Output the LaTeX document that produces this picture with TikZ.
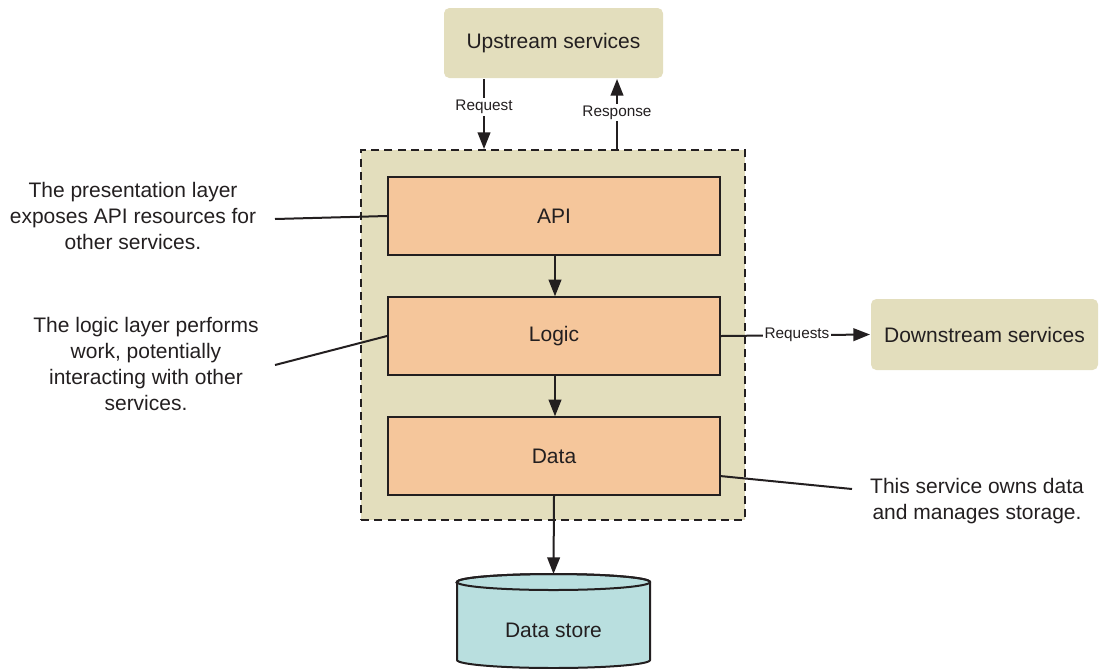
\documentclass[tikz,border=0pt]{standalone}
\usepackage{fontspec}
\setmainfont{Liberation Sans}
\usetikzlibrary{arrows.meta}
\definecolor{beige}{RGB}{227,222,189}
\definecolor{peach}{RGB}{245,198,155}
\definecolor{teal}{RGB}{185,223,223}
\definecolor{ink}{RGB}{35,31,32}
\begin{document}
\begin{tikzpicture}[x=0.75pt,y=-0.75pt,
  line width=1.5pt, draw=ink,
  big/.style={font=\fontsize{15.75}{19.5}\selectfont, text=ink},
  small/.style={font=\fontsize{11.5}{13}\selectfont, text=ink, fill=white, inner sep=1.5pt},
  svc/.style={big, fill=beige, rounded corners=4pt, minimum width=#1, minimum height=52.5pt, inner sep=0pt},
  layer/.style={big, draw=ink, fill=peach, minimum width=249pt, minimum height=58pt, inner sep=0pt},
  note/.style={big, align=center, inner sep=0pt},
  arr/.style={draw=ink, -{Triangle[length=12.5pt,width=9.5pt]}},
  lead/.style={draw=ink, line width=1.5pt}]
\useasboundingbox (0,0) rectangle (1102,668);
% container
\node[draw=ink, dashed, dash pattern=on 6pt off 4pt, fill=beige, minimum width=288pt, minimum height=277.5pt, inner sep=0pt] (box) at (553,335) {};
% services
\node[svc=164.25pt] (up) at (553.5,43) {Upstream services};
\node[svc=170.25pt, minimum height=53.25pt] (down) at (984.5,334.5) {Downstream services};
% layers
\node[layer] (api) at (554,216) {API};
\node[layer] (logic) at (554,336) {Logic};
\node[layer] (data) at (554,456) {Data};
% cylinder
\coordinate (dstop) at (553.5,574);
\path[fill=teal, draw=ink] (457,582) -- (457,660) arc[start angle=180, end angle=360, x radius=72.4pt, y radius=6pt] -- (650,582) arc[start angle=0, end angle=180, x radius=72.4pt, y radius=6pt] -- cycle;
\draw[draw=ink] (553.5,582) ellipse [x radius=72.4pt, y radius=6pt];
\node[big] (ds) at (553.5,630) {Data store};
% arrows between layers
\draw[arr] (api.south -| 555,0) -- (logic.north -| 555,0);
\draw[arr] (logic.south -| 555,0) -- (data.north -| 555,0);
\draw[arr] (data.south) -- (dstop);
% upstream
\draw[arr] (up.south -| 484,0) -- node[small, pos=0.4] {Request} (box.north -| 484,0);
\draw[arr] (box.north -| 617,0) -- node[small, pos=0.52] {Response} (up.south -| 617,0);
% downstream
\draw[arr] (logic.east) -- node[small, pos=0.51] {Requests} (down.west);
% notes
\node[note] (n1) at (133,216) {The presentation layer\\exposes API resources for\\other services.};
\node[note] (n2) at (146,364) {The logic layer performs\\work, potentially\\interacting with other\\services.};
\node[note] (n3) at (977,501) {This service owns data\\and manages storage.};
\coordinate (l1) at (275,219);
\coordinate (l2) at (275,365);
\coordinate (l3) at (852,489);
\draw[lead] (l1) -- (api.west);
\draw[lead] (l2) -- (logic.west);
\draw[lead] (l3) -- (720,476);
\end{tikzpicture}
\end{document}
